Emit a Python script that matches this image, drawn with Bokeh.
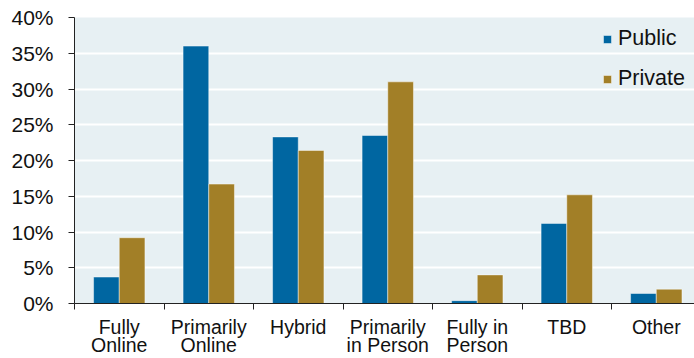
from bokeh.plotting import figure
from bokeh.models import (ColumnDataSource, Range1d, FixedTicker, PrintfTickFormatter,
                          Legend, LegendItem, LinearAxis)
from bokeh.embed import file_html
from bokeh.resources import INLINE
import numpy as np

# Learning-mode shares by school type (percent)
categories = ["Fully Online", "Primarily Online", "Hybrid", "Primarily in Person",
              "Fully in Person", "TBD", "Other"]
# category names split over two label rows
label_row1 = ["Fully", "Primarily", "Hybrid", "Primarily", "Fully in", "TBD", "Other"]
label_row2 = ["Online", "Online", "", "in Person", "Person", "", ""]
public = [3.7, 36.0, 23.3, 23.5, 0.4, 11.2, 1.4]
private = [9.2, 16.7, 21.4, 31.0, 4.0, 15.2, 2.0]
y_ticks = [0, 5, 10, 15, 20, 25, 30, 35, 40]

BLUE = "#0066a1"
GOLD = "#a27f27"
BG = "#e7f0f3"
INK = "#111111"
AXIS = "#222222"
FONT = "Liberation Sans"

centers = np.arange(len(categories)) + 0.5
bar_w = 0.287

src = ColumnDataSource(dict(
    x_pub=centers - bar_w / 2,
    x_priv=centers + bar_w / 2,
    public=public,
    private=private,
))

p = figure(width=694, height=358, output_backend="svg", toolbar_location=None,
           x_range=Range1d(0, 6.927), y_range=Range1d(0, 40),
           x_axis_location=None,
           min_border_left=74, min_border_right=0, min_border_top=17, min_border_bottom=55)
p.background_fill_color = BG
p.border_fill_color = "white"
p.outline_line_color = None

r_pub = p.vbar(x="x_pub", top="public", width=bar_w, source=src,
               fill_color=BLUE, line_color="white", line_alpha=0.45, line_width=1)
r_priv = p.vbar(x="x_priv", top="private", width=bar_w, source=src,
                fill_color=GOLD, line_color="white", line_alpha=0.45, line_width=1)

# grid
p.xgrid.visible = False
p.ygrid.ticker = FixedTicker(ticks=y_ticks)
p.ygrid.grid_line_color = "white"
p.ygrid.grid_line_width = 2

# y axis
ya = p.yaxis[0]
ya.ticker = FixedTicker(ticks=y_ticks)
ya.formatter = PrintfTickFormatter(format="%d%%")
ya.axis_line_color = AXIS
ya.major_tick_line_color = AXIS
ya.major_tick_in = 0
ya.major_tick_out = 6
ya.minor_tick_line_color = None
ya.major_label_standoff = 15
ya.major_label_text_font = FONT
ya.major_label_text_font_size = "21px"
ya.major_label_text_color = INK


def label_axis(ticks, labels, standoff, show_line):
    ax = LinearAxis(ticker=FixedTicker(ticks=list(ticks)))
    ax.major_label_overrides = {float(t): s for t, s in zip(ticks, labels)}
    ax.major_tick_line_color = None
    ax.major_tick_in = 0
    ax.major_tick_out = 0
    ax.major_label_standoff = standoff
    ax.major_label_text_font = FONT
    ax.major_label_text_font_size = "19.5px"
    ax.major_label_text_color = INK
    if show_line:
        ax.axis_line_color = AXIS
        ax.minor_tick_line_color = AXIS
        ax.minor_tick_in = 0
        ax.minor_tick_out = 6
        ax.ticker.minor_ticks = list(range(len(categories) + 1))
    else:
        ax.axis_line_color = None
        ax.minor_tick_line_color = None
    return ax


# first row sits on the x axis line, with separator ticks between groups
p.add_layout(label_axis(centers, label_row1, 6, True), "below")
# second row of the category names, only where a name wraps
row2 = [(c, s) for c, s in zip(centers, label_row2) if s]
p.add_layout(label_axis([c for c, _ in row2], [s for _, s in row2], -7, False), "below")

legend = Legend(items=[LegendItem(label="Public", renderers=[r_pub]),
                       LegendItem(label="Private", renderers=[r_priv])],
                location=(528, 212))
legend.background_fill_alpha = 0
legend.border_line_color = None
legend.padding = 0
legend.margin = 0
legend.glyph_width = 10
legend.glyph_height = 10
legend.label_standoff = 6
legend.label_height = 24
legend.spacing = 15
legend.label_text_font = FONT
legend.label_text_font_size = "21.5px"
legend.label_text_color = INK
p.add_layout(legend, "center")

open("out.html", "w").write(file_html(p, INLINE))
